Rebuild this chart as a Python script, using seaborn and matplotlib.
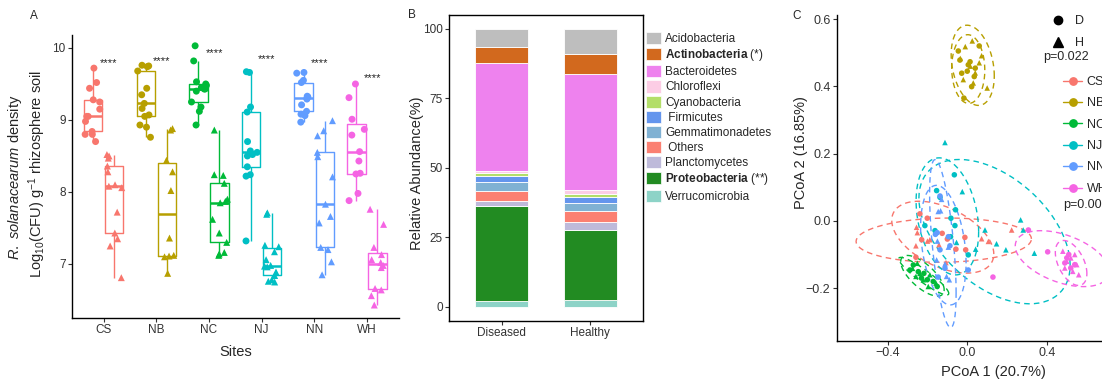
import numpy as np
import pandas as pd
import matplotlib
matplotlib.use("Agg")
import matplotlib.pyplot as plt
from matplotlib.lines import Line2D
from matplotlib.patches import Patch
import seaborn as sns

sns.set_theme(style="ticks")
plt.rcParams["font.family"] = ["Liberation Sans", "DejaVu Sans"]
plt.rcParams["mathtext.fontset"] = "custom"
plt.rcParams["mathtext.rm"] = "Liberation Sans"
plt.rcParams["mathtext.it"] = "Liberation Sans:italic"
plt.rcParams["mathtext.bf"] = "Liberation Sans:bold"
plt.rcParams["axes.unicode_minus"] = True

# ---------------------------------------------------------------- data
sites = ["CS", "NB", "NC", "NJ", "NN", "WH"]
site_colors = ["#F8766D", "#B79F00", "#00BA38", "#00BFC4", "#619CFF", "#F564E3"]

# A: R. solanacearum density, log10(CFU) per g rhizosphere soil
cs_d = [9.72, 9.52, 9.44, 9.28, 9.25, 9.15, 9.05, 9.05, 8.98, 8.84, 8.80, 8.80, 8.70]
cs_h = [8.52, 8.50, 8.47, 8.36, 8.28, 8.10, 8.08, 8.06, 7.72, 7.43, 7.35, 7.25, 6.81]
nb_d = [9.76, 9.75, 9.74, 9.68, 9.44, 9.35, 9.23, 9.16, 9.07, 9.05, 8.93, 8.90, 8.76]
nb_h = [8.88, 8.86, 8.44, 8.28, 8.02, 7.36, 7.12, 7.11, 7.10, 6.87]
nc_d = [10.03, 9.82, 9.53, 9.50, 9.48, 9.45, 9.43, 9.43, 9.40, 9.25, 9.18, 9.12, 8.93]
nc_h = [8.86, 8.24, 8.23, 8.12, 7.90, 7.87, 7.85, 7.62, 7.43, 7.30, 7.16, 7.14, 7.12]
nj_d = [9.67, 9.66, 9.18, 9.11, 8.70, 8.57, 8.55, 8.52, 8.50, 8.35, 8.24, 8.22, 7.32]
nj_h = [7.71, 7.69, 7.26, 7.24, 7.17, 7.06, 6.98, 6.97, 6.96, 6.89, 6.84, 6.78, 6.76, 6.75]
nn_d = [9.66, 9.65, 9.55, 9.52, 9.33, 9.32, 9.30, 9.29, 9.21, 9.12, 9.08, 9.06, 8.97]
nn_h = [8.99, 8.85, 8.78, 8.55, 8.49, 8.21, 7.83, 7.66, 7.57, 7.23, 7.20, 7.03, 6.85]
wh_d = [9.50, 9.31, 9.01, 8.87, 8.79, 8.56, 8.43, 8.26, 8.25, 7.98, 7.88]
wh_h = [7.76, 7.55, 7.23, 7.13, 7.06, 7.02, 6.98, 6.95, 6.66, 6.64, 6.56, 6.43]
sig_labels = ["****"] * 6
sig_label_y = [9.75, 9.77, 9.89, 9.81, 9.75, 9.54]

# B: phylum composition (%), diseased vs healthy rhizosphere
statuses = ["Diseased", "Healthy"]
phyla = ["Acidobacteria", "Actinobacteria", "Bacteroidetes", "Chloroflexi",
         "Cyanobacteria", "Firmicutes", "Gemmatimonadetes", "Others",
         "Planctomycetes", "Proteobacteria", "Verrucomicrobia"]
phylum_labels = ["Acidobacteria", r"$\mathbf{Actinobacteria}$ (*)", "Bacteroidetes",
                 "Chloroflexi", "Cyanobacteria", " Firmicutes", "Gemmatimonadetes",
                 " Others", "Planctomycetes", r"$\mathbf{Proteobacteria}$ (**)",
                 "Verrucomicrobia"]
diseased_pct = [6.5, 5.6, 39.1, 0.8, 1.0, 2.0, 3.4, 3.6, 1.8, 34.2, 2.0]
healthy_pct = [8.9, 7.2, 41.9, 1.5, 1.1, 2.0, 3.1, 3.9, 2.6, 25.4, 2.4]
phylum_colors = ["#BEBEBE", "#D2691E", "#EE82EE", "#FCCDE5", "#B3DE69", "#6495ED",
                 "#80B1D3", "#FB8072", "#BEBADA", "#228B22", "#8DD3C7"]

# C: PCoA scores per site, diseased (D) and healthy (H) samples
cs_d_pc1 = [-0.238, -0.201, -0.229, -0.258, -0.100, -0.057, -0.012, -0.126, -0.008]
cs_d_pc2 = [0.021, 0.008, -0.056, -0.108, -0.054, -0.084, -0.049, -0.037, -0.086]
cs_h_pc1 = [-0.255, -0.251, -0.188, -0.258, -0.142, -0.107, 0.072, 0.106, 0.223, -0.200]
cs_h_pc2 = [-0.019, -0.035, -0.056, -0.074, -0.071, -0.124, -0.053, -0.061, -0.027, -0.060]
nb_d_pc1 = [-0.045, -0.037, 0.014, 0.005, 0.040, -0.028, 0.000, 0.035, 0.022, -0.017, 0.060]
nb_d_pc2 = [0.505, 0.478, 0.473, 0.464, 0.454, 0.439, 0.445, 0.429, 0.399, 0.365, 0.520]
nb_h_pc1 = [0.025, -0.010, 0.072, 0.100, -0.035, 0.040, 0.015, 0.060, 0.030, -0.020]
nb_h_pc2 = [0.535, 0.518, 0.491, 0.395, 0.483, 0.440, 0.460, 0.470, 0.410, 0.420]
nc_d_pc1 = [-0.288, -0.246, -0.218, -0.201, -0.171, -0.151, -0.271, -0.230]
nc_d_pc2 = [-0.146, -0.151, -0.156, -0.175, -0.180, -0.195, -0.131, -0.170]
nc_h_pc1 = [-0.275, -0.251, -0.238, -0.221, -0.196, -0.188, -0.157, -0.258]
nc_h_pc2 = [-0.141, -0.126, -0.156, -0.175, -0.195, -0.160, -0.185, -0.165]
nj_d_pc1 = [-0.065, -0.154, -0.137, -0.059, -0.082, -0.213, -0.062, -0.162, -0.084, 0.005]
nj_d_pc2 = [0.137, 0.090, 0.070, 0.033, 0.008, -0.014, -0.014, -0.029, -0.047, -0.101]
nj_h_pc1 = [-0.112, -0.025, 0.268, 0.281, 0.089, -0.054, 0.147, 0.194, 0.042, 0.337]
nj_h_pc2 = [0.233, 0.087, 0.003, -0.027, -0.027, -0.064, -0.068, -0.086, -0.084, -0.096]
nn_d_pc1 = [-0.137, -0.151, -0.137, -0.095, -0.087, -0.112, -0.146, 0.005, -0.160]
nn_d_pc2 = [0.074, -0.035, -0.086, -0.047, -0.074, -0.141, -0.167, -0.146, -0.040]
nn_h_pc1 = [-0.129, -0.146, -0.095, -0.154, -0.112, -0.104, -0.090, -0.150, -0.134]
nn_h_pc2 = [0.064, 0.028, -0.078, -0.116, -0.128, -0.165, -0.175, -0.060, 0.030]
wh_d_pc1 = [0.307, 0.404, 0.129, 0.500, 0.520, 0.490, 0.540, 0.510]
wh_d_pc2 = [-0.027, -0.092, -0.167, -0.110, -0.140, -0.125, -0.130, -0.100]
wh_h_pc1 = [0.480, 0.500, 0.530, 0.550, 0.520, 0.560, 0.490, 0.540]
wh_h_pc2 = [-0.090, -0.120, -0.150, -0.130, -0.110, -0.160, -0.140, -0.100]
pcoa_p_values = ["p=0.022", "p=0.001"]

# ---------------------------------------------------------------- layout
W, H = 1102, 381
fig = plt.figure(figsize=(W / 100, H / 100), dpi=100)


def px_box(left, top, right, bottom):
    return [left / W, 1 - bottom / H, (right - left) / W, (bottom - top) / H]


def fx(x):
    return x / W


def fy(y):
    return 1 - y / H


TICK_COLOR = "#333333"


def style_axis(ax, size):
    ax.tick_params(axis="both", length=3, width=0.8, color=TICK_COLOR,
                   labelcolor=TICK_COLOR, labelsize=size, pad=1.5)
    for sp in ax.spines.values():
        sp.set_color("black")
        sp.set_linewidth(1.0)


# ---------------------------------------------------------------- A
ax_a = fig.add_axes(px_box(72, 35, 398.5, 318))
rows = []
for site, d_vals, h_vals in zip(sites, [cs_d, nb_d, nc_d, nj_d, nn_d, wh_d],
                                [cs_h, nb_h, nc_h, nj_h, nn_h, wh_h]):
    rows += [(site, "D", v) for v in d_vals]
    rows += [(site, "H", v) for v in h_vals]
dens = pd.DataFrame(rows, columns=["site", "status", "density"])
dens["pos"] = (dens["site"].map({s: i for i, s in enumerate(sites)})
               + dens["status"].map({"D": -0.2, "H": 0.2}))

sns.boxplot(data=dens, x="pos", y="density", hue="site", hue_order=sites,
            palette=site_colors, native_scale=True, dodge=False, fill=False,
            width=0.875, showfliers=False, showcaps=False, linewidth=1.0,
            medianprops={"linewidth": 1.8}, legend=False, ax=ax_a)
np.random.seed(3)
for status, marker in [("D", "o"), ("H", "^")]:
    sns.stripplot(data=dens[dens["status"] == status], x="pos", y="density",
                  hue="site", hue_order=sites, palette=site_colors,
                  native_scale=True, dodge=False, jitter=0.16, marker=marker,
                  size=5, linewidth=0, legend=False, ax=ax_a, zorder=3)
for i, (lab, yv) in enumerate(zip(sig_labels, sig_label_y)):
    ax_a.text(i + 0.1, yv, lab, ha="center", va="baseline", fontsize=8,
              color="#222222")

ax_a.set_xlim(-0.6, 5.6)
ax_a.set_ylim(6.25, 10.18)
ax_a.set_xticks(range(len(sites)))
ax_a.set_xticklabels(sites)
ax_a.set_yticks([7, 8, 9, 10])
ax_a.set_xlabel("Sites", fontsize=10.5, labelpad=6)
ax_a.set_ylabel("")
sns.despine(ax=ax_a)
style_axis(ax_a, 8.5)

fig.text(fx(15), fy(177), r"$\mathit{R.\ solanacearum}$ density", rotation=90,
         ha="center", va="center", fontsize=10.5)
fig.text(fx(37), fy(174), r"Log$_{10}$(CFU) g$^{-1}$ rhizosphere soil",
         rotation=90, ha="center", va="center", fontsize=10.5)
fig.text(fx(34), fy(16), "A", ha="center", va="center", fontsize=8.5)

# ---------------------------------------------------------------- B
ax_b = fig.add_axes(px_box(449, 15, 643, 320.7))
comp = pd.DataFrame({
    "status": [statuses[0]] * len(phyla) + [statuses[1]] * len(phyla),
    "phylum": phyla * 2,
    "abundance": diseased_pct + healthy_pct,
})
sns.histplot(data=comp, x="status", weights="abundance", hue="phylum",
             hue_order=phyla, palette=phylum_colors, multiple="stack",
             discrete=True, shrink=0.6, alpha=1, edgecolor="white",
             linewidth=0.6, legend=False, ax=ax_b)
ax_b.set_xlim(-0.6, 1.6)
ax_b.set_ylim(-5, 105)
ax_b.set_yticks([0, 25, 50, 75, 100])
ax_b.set_xlabel("")
ax_b.set_ylabel("")
style_axis(ax_b, 8.5)
fig.text(fx(417), fy(173), "Relative Abundance(%)", rotation=90,
         ha="center", va="center", fontsize=10.5)
fig.text(fx(412), fy(15), "B", ha="center", va="center", fontsize=8.5)

handles_b = [Patch(facecolor=c, edgecolor="white", linewidth=0.5) for c in phylum_colors]
fig.legend(handles_b, phylum_labels, loc="upper left",
           bbox_to_anchor=(fx(646), fy(32)), frameon=False, fontsize=8.5,
           handlelength=1.27, handleheight=1.2, handletextpad=0.35,
           labelspacing=0.18, borderpad=0, borderaxespad=0)

# ---------------------------------------------------------------- C
ax_c = fig.add_axes(px_box(836.7, 15, 1149, 341))
pc_sets = [
    ("CS", cs_d_pc1, cs_d_pc2, cs_h_pc1, cs_h_pc2),
    ("NB", nb_d_pc1, nb_d_pc2, nb_h_pc1, nb_h_pc2),
    ("NC", nc_d_pc1, nc_d_pc2, nc_h_pc1, nc_h_pc2),
    ("NJ", nj_d_pc1, nj_d_pc2, nj_h_pc1, nj_h_pc2),
    ("NN", nn_d_pc1, nn_d_pc2, nn_h_pc1, nn_h_pc2),
    ("WH", wh_d_pc1, wh_d_pc2, wh_h_pc1, wh_h_pc2),
]
rows = []
for site, dx, dy, hx, hy in pc_sets:
    rows += [(site, "D", a, b) for a, b in zip(dx, dy)]
    rows += [(site, "H", a, b) for a, b in zip(hx, hy)]
scores = pd.DataFrame(rows, columns=["site", "status", "pc1", "pc2"])


def cov_trob(pts, nu=5, maxit=25, tol=0.01):
    """Multivariate-t robust location and scatter (as in MASS::cov.trob)."""
    n, p = pts.shape
    loc = pts.mean(axis=0)
    w = np.ones(n)
    X = pts - loc
    for _ in range(maxit):
        w0 = w
        X = pts - loc
        _, d, vt = np.linalg.svd(np.sqrt(w / w.sum())[:, None] * X, full_matrices=False)
        wX = X @ vt.T @ np.diag(1 / d)
        Q = (wX ** 2).sum(axis=1)
        w = (nu + p) / (nu + Q)
        loc = (w[:, None] * pts).sum(axis=0) / w.sum()
        if np.all(np.abs(w - w0) < tol):
            break
    sX = np.sqrt(w)[:, None] * X
    return loc, sX.T @ sX / n


def t_ellipse(x, y, level=0.95, segments=80):
    pts = np.column_stack([x, y])
    center, shape = cov_trob(pts)
    dfd = len(pts) - 1
    fq = dfd / 2 * ((1 - level) ** (-2 / dfd) - 1)   # F(2, dfd) quantile
    radius = np.sqrt(2 * fq)
    ang = np.linspace(0, 2 * np.pi, segments + 1)
    circle = np.column_stack([np.cos(ang), np.sin(ang)])
    return center + radius * circle @ np.linalg.cholesky(shape).T


for (site, grp), sub in scores.groupby(["site", "status"]):
    ell = t_ellipse(sub["pc1"].to_numpy(), sub["pc2"].to_numpy())
    ax_c.plot(ell[:, 0], ell[:, 1], color=site_colors[sites.index(site)],
              ls=(0, (4, 3)), lw=1.0)

sns.scatterplot(data=scores, x="pc1", y="pc2", hue="site", hue_order=sites,
                palette=site_colors, style="status", markers={"D": "o", "H": "^"},
                s=16, linewidth=0, legend=False, ax=ax_c, zorder=3)
ax_c.set_xlim(-0.656, 0.913)
ax_c.set_ylim(-0.357, 0.612)
ax_c.set_xticks([-0.4, 0.0, 0.4])
ax_c.set_yticks([-0.2, 0.0, 0.2, 0.4, 0.6])
ax_c.set_xlabel("")
ax_c.set_ylabel("")
sns.despine(ax=ax_c)
style_axis(ax_c, 9)
fig.text(fx(993), fy(372), "PCoA 1 (20.7%)", ha="center", va="center", fontsize=10.5)
fig.text(fx(801), fy(153), "PCoA 2 (16.85%)", rotation=90, ha="center",
         va="center", fontsize=10.5)
fig.text(fx(797), fy(16), "C", ha="center", va="center", fontsize=8.5)

shape_handles = [Line2D([0], [0], marker="o", ls="", color="black", markersize=6),
                 Line2D([0], [0], marker="^", ls="", color="black", markersize=6.5)]
fig.legend(shape_handles, ["D", "H"], loc="upper left",
           bbox_to_anchor=(fx(1048.5), fy(15.5)), frameon=False, fontsize=9,
           handlelength=1.5, handletextpad=0.6, labelspacing=0.77,
           borderpad=0, borderaxespad=0)
site_handles = [Line2D([0], [0], marker="o", color=c, markersize=5.3, lw=1.0)
                for c in site_colors]
fig.legend(site_handles, sites, loc="upper left",
           bbox_to_anchor=(fx(1063), fy(76)), frameon=False, fontsize=9,
           handlelength=1.52, handletextpad=0.38, labelspacing=0.75,
           borderpad=0, borderaxespad=0)
fig.text(fx(1043), fy(57), pcoa_p_values[0], ha="left", va="center", fontsize=9)
fig.text(fx(1063), fy(205), pcoa_p_values[1], ha="left", va="center", fontsize=9)

fig.savefig("out.png", dpi=100)
